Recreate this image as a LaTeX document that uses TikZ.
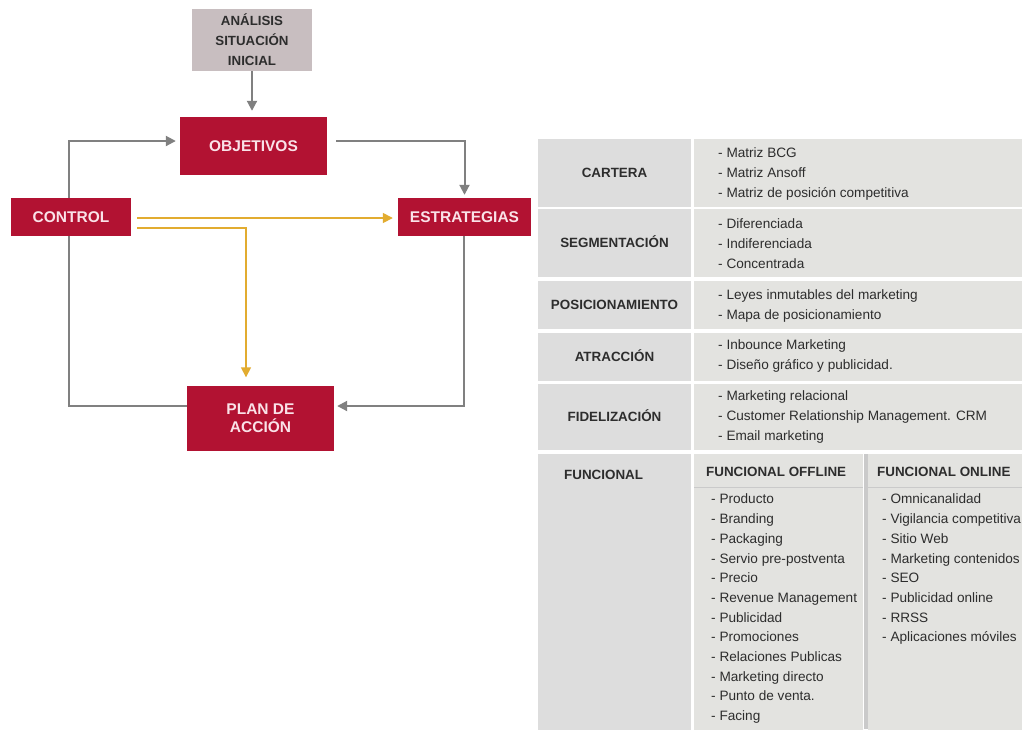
\documentclass[tikz,border=0pt]{standalone}
\usepackage{fontspec}
\setmainfont{Liberation Sans}
\usetikzlibrary{arrows.meta}
\definecolor{carmin}{RGB}{178,18,50}
\definecolor{rosado}{RGB}{250,226,232}
\definecolor{malva}{RGB}{200,190,192}
\definecolor{grisflecha}{RGB}{128,128,128}
\definecolor{ocre}{RGB}{226,172,48}
\definecolor{celdaA}{RGB}{221,221,221}
\definecolor{celdaB}{RGB}{227,227,224}
\definecolor{texto}{RGB}{45,45,45}
\definecolor{raya}{RGB}{202,202,202}

\begin{document}
\begin{tikzpicture}[x=1pt, y=-1pt,
    caja/.style={fill=carmin, text=rosado, inner sep=0pt, align=center, font=\fontsize{15.5}{17.5}\selectfont\bfseries},
    flecha/.style={draw=grisflecha, line width=2pt, -{Triangle[length=10pt,width=10pt]}},
    flechaoro/.style={draw=ocre, line width=1.6pt, -{Triangle[length=10pt,width=10pt]}},
    linea/.style={draw=grisflecha, line width=2pt},
    celda/.style={fill=celdaA, inner sep=0pt},
    etiq/.style={font=\fontsize{13.4}{16}\selectfont\bfseries, text=texto, inner sep=0pt, text height=9.6pt, text depth=0pt},
    item/.style={anchor=west, inner sep=0pt, font=\fontsize{13.6}{16}\selectfont, text=texto, text height=9.8pt, text depth=0pt}]
  \useasboundingbox (0,0) rectangle (1022,729);
  \fill[white] (0,0) rectangle (1022,729);

  % Diagrama
  \node[caja, fill=malva, text=texto, font=\fontsize{13.3}{20}\selectfont\bfseries, minimum width=120pt, minimum height=62pt] (analisis) at (252,40) {ANÁLISIS\\SITUACIÓN\\INICIAL};
  \node[caja, minimum width=147pt, minimum height=58pt] (objetivos) at (253.5,146) {OBJETIVOS};
  \node[caja, minimum width=120pt, minimum height=38pt] (control) at (71,217) {CONTROL};
  \node[caja, minimum width=133pt, minimum height=38pt] (estrategias) at (464.5,217) {ESTRATEGIAS};
  \node[caja, minimum width=147pt, minimum height=65pt] (plan) at (260.5,418) {PLAN DE\\ACCIÓN};

  % Conectores
  \draw[flecha, shorten >=6pt] (analisis.south) -- (analisis.south |- objetivos.north);
  \draw[flecha, shorten >=4pt] ([xshift=-2pt]control.north) |- ([yshift=5pt]objetivos.west);
  \draw[flecha, shorten <=9pt, shorten >=3pt] ([yshift=5pt]objetivos.east) -| (estrategias.north);
  \draw[flechaoro, shorten <=6pt, shorten >=5pt] ([yshift=-1pt]control.east) -- ([yshift=-1pt]estrategias.west);
  \draw[flechaoro, shorten <=6pt, shorten >=8pt] ([yshift=-11pt]control.east) -| ([xshift=-14.5pt]plan.north);
  \draw[linea] ([xshift=-2pt]control.south) |- ([yshift=12pt]plan.west);
  \draw[flecha, shorten >=3pt] ([xshift=-0.5pt]estrategias.south) |- ([yshift=12pt]plan.east);

  % Tabla
  \begin{scope}
    \clip (536,130) rectangle (1022,729);
    % Cartera
    \node[celda, etiq, minimum width=153pt, minimum height=68pt] (cartera) at (614.5,173) {CARTERA};
    \node[celda, fill=celdaB, minimum width=336pt, minimum height=68pt] (cartera-txt) at (862,173) {};
    \foreach \t [count=\i from 0] in {- Matriz BCG, - Matriz Ansoff, - Matriz de posición competitiva}
      \node[item] (cartera-\i) at (718,153+19.6*\i) {\t};
    % Segmentacion
    \node[celda, etiq, minimum width=153pt, minimum height=68pt] (segmentacion) at (614.5,243) {SEGMENTACIÓN};
    \node[celda, fill=celdaB, minimum width=336pt, minimum height=68pt] (segmentacion-txt) at (862,243) {};
    \foreach \t [count=\i from 0] in {- Diferenciada, - Indiferenciada, - Concentrada}
      \node[item] (segmentacion-\i) at (718,224+19.8*\i) {\t};
    % Posicionamiento
    \node[celda, etiq, minimum width=153pt, minimum height=48pt] (posicionamiento) at (614.5,305) {POSICIONAMIENTO};
    \node[celda, fill=celdaB, minimum width=336pt, minimum height=48pt] (posicionamiento-txt) at (862,305) {};
    \foreach \t [count=\i from 0] in {- Leyes inmutables del marketing, - Mapa de posicionamiento}
      \node[item] (posicionamiento-\i) at (718,295+19.5*\i) {\t};
    % Atraccion
    \node[celda, etiq, minimum width=153pt, minimum height=48pt] (atraccion) at (614.5,357) {ATRACCIÓN};
    \node[celda, fill=celdaB, minimum width=336pt, minimum height=48pt] (atraccion-txt) at (862,357) {};
    \foreach \t [count=\i from 0] in {- Inbounce Marketing, - Diseño gráfico y publicidad.}
      \node[item] (atraccion-\i) at (718,345+20*\i) {\t};
    % Fidelizacion
    \node[celda, etiq, minimum width=153pt, minimum height=66pt] (fidelizacion) at (614.5,417) {FIDELIZACIÓN};
    \node[celda, fill=celdaB, minimum width=336pt, minimum height=66pt] (fidelizacion-txt) at (862,417) {};
    \foreach \t [count=\i from 0] in {- Marketing relacional, - Customer Relationship Management. CRM, - Email marketing}
      \node[item] (fidelizacion-\i) at (718,396+19.6*\i) {\t};
    % Funcional
    \node[celda, minimum width=153pt, minimum height=280pt, anchor=north] (funcional) at (614.5,454) {};
    \node[etiq, anchor=west] (funcional-tit) at (564,475) {FUNCIONAL};
    \node[celda, fill=celdaB, minimum width=169pt, minimum height=280pt, anchor=north west] (offline) at (694,454) {};
    \node[celda, fill=celdaB, minimum width=162pt, minimum height=280pt, anchor=north west] (online) at (868,454) {};
    \draw[raya, line width=4pt] (865.5,454) -- (865.5,729);
    \draw[raya, line width=1.6pt] (694,487.5) -- (863,487.5);
    \draw[raya, line width=1.6pt] (868,487.5) -- (1022,487.5);
    \node[etiq, anchor=west] (offline-tit) at (706,472) {FUNCIONAL OFFLINE};
    \node[etiq, anchor=west] (online-tit) at (877,472) {FUNCIONAL ONLINE};
    \foreach \t [count=\i from 0] in {- Producto, - Branding, - Packaging, - Servio pre-postventa, - Precio, - Revenue Management, - Publicidad, - Promociones, - Relaciones Publicas, - Marketing directo, - Punto de venta., - Facing}
      \node[item] (offline-\i) at (711,499+19.7*\i) {\t};
    \foreach \t [count=\i from 0] in {- Omnicanalidad, - Vigilancia competitiva, - Sitio Web, - Marketing contenidos, - SEO, - Publicidad online, - RRSS, - Aplicaciones móviles}
      \node[item] (online-\i) at (882,499+19.7*\i) {\t};
  \end{scope}
\end{tikzpicture}
\end{document}
